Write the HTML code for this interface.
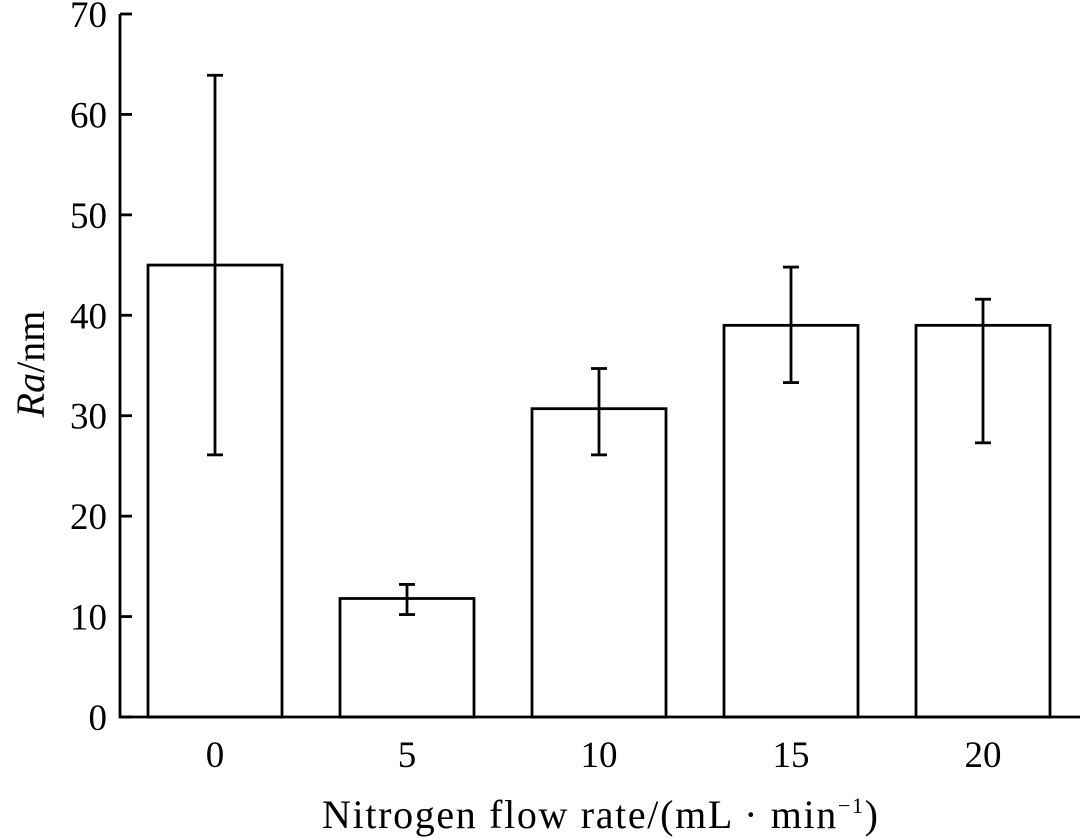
<!DOCTYPE html>
<html><head><meta charset="utf-8"><style>
body{margin:0;background:#fff}
svg{display:block}
text{font-family:"Liberation Serif",serif;fill:#000}
</style></head><body>
<svg id="c" width="1080" height="839"></svg>
<script>
const categories=["0","5","10","15","20"];
const values=[45,11.8,30.7,39,39];
const errHigh=[63.9,13.2,34.7,44.8,41.6];
const errLow=[26.1,10.2,26.1,33.3,27.3];
const yTicks=[0,10,20,30,40,50,60,70];
const NS="http://www.w3.org/2000/svg";
const svg=document.getElementById('c');
const y0=717,yTop=14,yMax=70,xL=119,step=192,bw=134;
const ys=v=>y0-(y0-yTop)*v/yMax;
const xc=i=>xL+step*(i+0.5);
function el(t,a,p){const e=document.createElementNS(NS,t);for(const k in a)e.setAttribute(k,a[k]);(p||svg).appendChild(e);return e;}
categories.forEach((c,i)=>{
 const r=el('rect',{x:xc(i)-bw/2,y:ys(values[i]),width:bw,height:y0-ys(values[i]),fill:'#fff',stroke:'#000','stroke-width':2.8});
 
 
 const g=el('g',{stroke:'#000','stroke-width':2.8});
 
 
 el('line',{x1:xc(i),x2:xc(i),y1:ys(errHigh[i]),y2:ys(errLow[i])},g);
 el('line',{x1:xc(i)-8,x2:xc(i)+8,y1:ys(errHigh[i]),y2:ys(errHigh[i])},g);
 el('line',{x1:xc(i)-8,x2:xc(i)+8,y1:ys(errLow[i]),y2:ys(errLow[i])},g);
 const t=el('text',{x:xc(i),y:767,'font-size':37,'text-anchor':'middle'});t.textContent=c;
 
 
});
yTicks.forEach(v=>{
 el('line',{x1:120,x2:132,y1:ys(v),y2:ys(v),stroke:'#000','stroke-width':2.8});
 const t=el('text',{x:107,y:ys(v)+13,'font-size':37,'text-anchor':'end'});t.textContent=v;
 
 
});
const ax=el('path',{d:`M120 ${yTop} V${y0} H1080`,fill:'none',stroke:'#000','stroke-width':2.8});


</script>
<svg style="position:absolute;left:0;top:0" width="1080" height="839">
<text transform="translate(44 364) rotate(-90)" font-size="40" text-anchor="middle"><tspan font-style="italic">Ra</tspan>/nm</text>
<text x="600" y="828" font-size="40" text-anchor="middle" textLength="556" lengthAdjust="spacing">Nitrogen flow rate/(mL · min<tspan font-size="22" dy="-15">−1</tspan><tspan dy="15">)</tspan></text>
</svg>
</body></html>
